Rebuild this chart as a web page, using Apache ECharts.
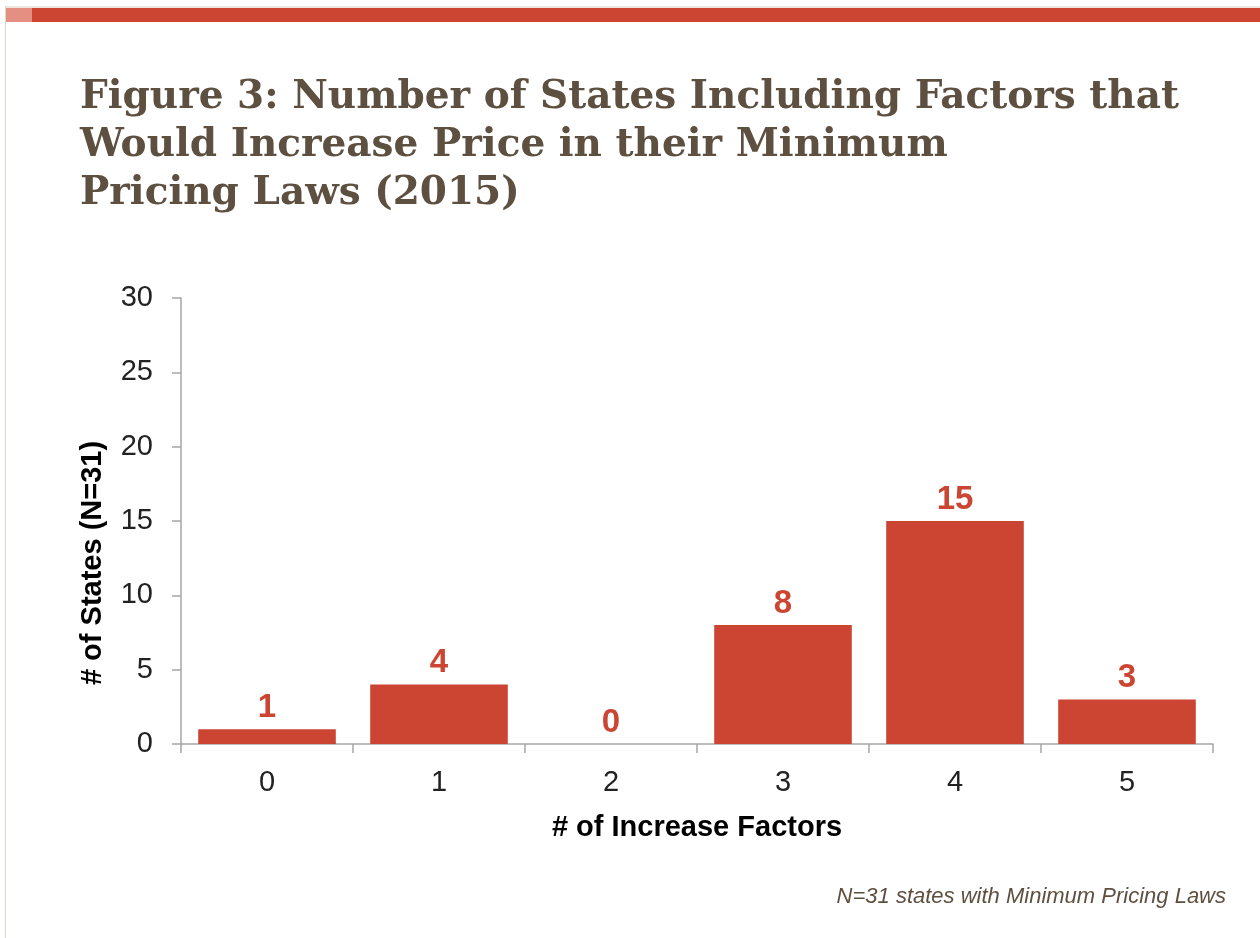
<!DOCTYPE html>
<html>
<head>
<meta charset="utf-8">
<style>
  html, body { margin: 0; padding: 0; background: #ffffff; }
  #chart { width: 1260px; height: 938px; }
</style>
<script src="https://cdn.jsdelivr.net/npm/echarts@6/dist/echarts.min.js"></script>
</head>
<body>
<div id="chart"></div>
<script>
// Number of increase factors (x categories)
const factorCounts = ['0', '1', '2', '3', '4', '5'];
// Number of states with each count of factors
const stateCounts = [1, 4, 0, 8, 15, 3];
// Y axis ticks
const yMin = 0, yMax = 30, yStep = 5;

const titleText = 'Figure 3: Number of States Including Factors that\nWould Increase Price in their Minimum\nPricing Laws (2015)';
const noteText = 'N=31 states with Minimum Pricing Laws';

const barRed = '#CB4532';
const titleBrown = '#5E5040';

const chart = echarts.init(document.getElementById('chart'), null, { renderer: 'canvas' });

chart.setOption({
  backgroundColor: '#ffffff',
  animation: false,
  title: [
    {
      text: titleText,
      left: 75,
      top: 69,
      textStyle: {
        fontFamily: 'DejaVu Serif',
        fontWeight: 'bold',
        fontSize: 39,
        lineHeight: 48,
        color: titleBrown
      }
    },
    {
      text: noteText,
      right: 29,
      top: 881,
      textStyle: {
        fontFamily: 'Liberation Sans',
        fontStyle: 'italic',
        fontWeight: 'normal',
        fontSize: 22,
        color: titleBrown
      }
    }
  ],
  graphic: [
    // slide frame: left rule and top banner
    { type: 'rect', shape: { x: 5, y: 6, width: 1, height: 932 }, style: { fill: '#DDD6CF' } },
    { type: 'rect', shape: { x: 6, y: 6, width: 1254, height: 2 }, style: { fill: '#EDE6E1' } },
    { type: 'rect', shape: { x: 6, y: 8, width: 26, height: 14 }, style: { fill: '#E38F82' } },
    { type: 'rect', shape: { x: 32, y: 8, width: 1228, height: 14 }, style: { fill: '#CB4532' } }
  ],
  grid: {
    left: 181,
    right: 47,
    top: 298,
    bottom: 194,
    containLabel: false
  },
  xAxis: {
    type: 'category',
    data: factorCounts,
    name: '# of Increase Factors',
    nameLocation: 'middle',
    nameGap: 69,
    nameTextStyle: {
      fontFamily: 'Liberation Sans',
      fontWeight: 'bold',
      fontSize: 29,
      color: '#000000'
    },
    axisLine: { show: true, lineStyle: { color: '#A6A6A6', width: 1.5 } },
    axisTick: { show: true, length: 9, lineStyle: { color: '#A6A6A6', width: 1.5 } },
    axisLabel: {
      fontFamily: 'Liberation Sans',
      fontSize: 29,
      color: '#222222',
      margin: 24
    },
    splitLine: { show: false }
  },
  yAxis: {
    type: 'value',
    min: yMin,
    max: yMax,
    interval: yStep,
    name: '# of States (N=31)',
    nameLocation: 'middle',
    nameRotate: 90,
    nameGap: 74,
    nameTextStyle: {
      fontFamily: 'Liberation Sans',
      fontWeight: 'bold',
      fontSize: 29,
      color: '#000000',
      padding: [0, 84, 0, 0]
    },
    axisLine: { show: true, lineStyle: { color: '#A6A6A6', width: 1.5 } },
    axisTick: { show: true, length: 9, lineStyle: { color: '#A6A6A6', width: 1.5 } },
    axisLabel: {
      fontFamily: 'Liberation Sans',
      fontSize: 29,
      color: '#222222',
      margin: 28
    },
    splitLine: { show: false }
  },
  series: [
    {
      type: 'bar',
      data: stateCounts,
      barCategoryGap: '20%',
      itemStyle: { color: barRed },
      label: {
        show: true,
        position: 'top',
        distance: 5,
        fontFamily: 'Liberation Sans',
        fontWeight: 'bold',
        fontSize: 33,
        color: barRed
      }
    }
  ]
});
</script>
</body>
</html>
